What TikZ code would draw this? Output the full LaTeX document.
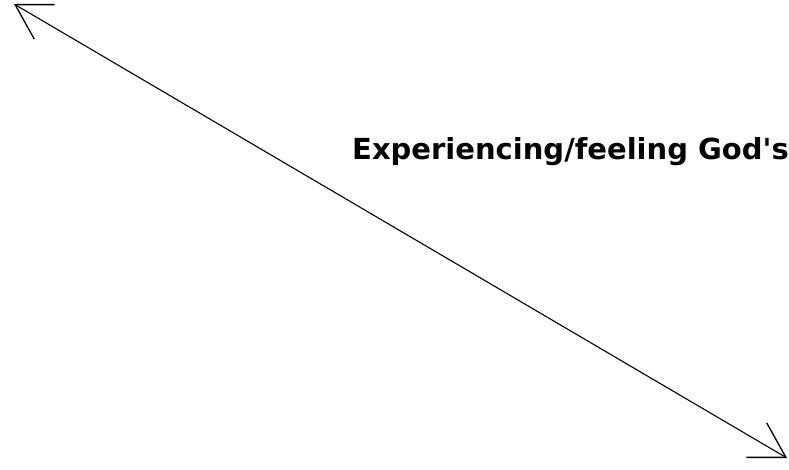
\documentclass[tikz,border=0pt]{standalone}
\usepackage{fontspec}
\setmainfont{DejaVu Sans}
\usetikzlibrary{arrows.meta}
\begin{document}
\begin{tikzpicture}[x=1pt,y=-1pt,
  arrowline/.style={line width=1.1pt, {Straight Barb[length=34pt,width=40pt,line width=1.3pt]}-{Straight Barb[length=34pt,width=40pt,line width=1.3pt]}},
  label/.style={font=\fontsize{29}{35}\selectfont\bfseries, inner sep=0pt, anchor=west}]
\useasboundingbox[fill=white] (0,0) rectangle (789,469);
\coordinate (a) at (14,4);
\coordinate (b) at (787,458);
\draw[arrowline] (a) -- (b);
\node[label] (t) at (352,152) {Experiencing/feeling God\textquotesingle s};
\end{tikzpicture}
\end{document}
